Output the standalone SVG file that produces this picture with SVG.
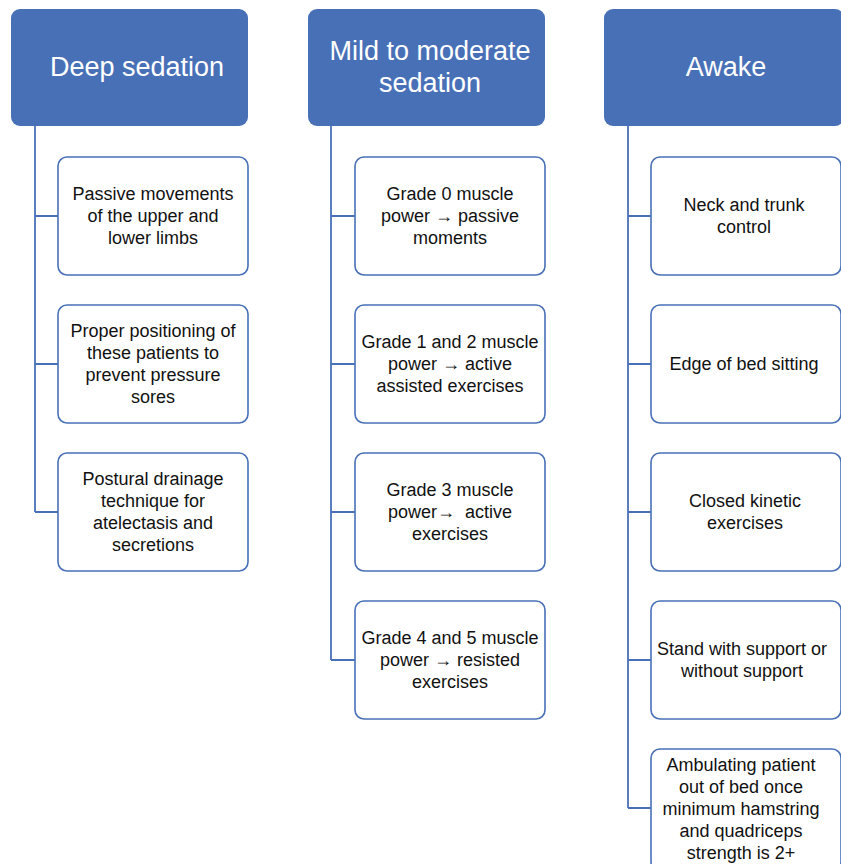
<svg xmlns="http://www.w3.org/2000/svg" width="841" height="864" viewBox="0 0 841 864">
<style>
.hdr{fill:#4870b7;}
.box{fill:#ffffff;stroke:#4870b7;stroke-width:1.6;}
.ht{font-family:"Liberation Sans",Arial,sans-serif;font-size:27px;fill:#ffffff;text-anchor:middle;}
.bt{font-family:"Liberation Sans",Arial,sans-serif;font-size:18px;fill:#111111;text-anchor:middle;}
.con{fill:none;stroke:#4870b7;stroke-width:1.8;}
</style>
<rect width="841" height="864" fill="#ffffff"/>
<g id="connectors">
<path class="con" d="M35,126 V512 M35,216 H58 M35,364 H58 M35,512 H58"/>
<path class="con" d="M331,126 V660 M331,216 H355 M331,364 H355 M331,512 H355 M331,660 H355"/>
<path class="con" d="M628,126 V808 M628,216 H651 M628,364 H651 M628,512 H651 M628,660 H651 M628,808 H651"/>
</g>
<g id="h1"><rect class="hdr" x="11" y="9" width="237" height="117" rx="9"/><text class="ht" x="137" y="76">Deep sedation</text></g>
<g id="h2"><rect class="hdr" x="308" y="9" width="237" height="117" rx="9"/><text class="ht" x="430" y="60">Mild to moderate</text><text class="ht" x="430" y="92">sedation</text></g>
<g id="h3"><rect class="hdr" x="604" y="9" width="240" height="117" rx="9"/><text class="ht" x="726" y="76">Awake</text></g>

<g id="d1"><rect class="box" x="58" y="157" width="190" height="118" rx="9"/><text class="bt" x="153"><tspan x="153" y="200">Passive movements</tspan><tspan x="153" y="222">of the upper and</tspan><tspan x="153" y="244">lower limbs</tspan></text></g>
<g id="d2"><rect class="box" x="58" y="305" width="190" height="118" rx="9"/><text class="bt"><tspan x="153" y="337">Proper positioning of</tspan><tspan x="153" y="359">these patients to</tspan><tspan x="153" y="381">prevent pressure</tspan><tspan x="153" y="403">sores</tspan></text></g>
<g id="d3"><rect class="box" x="58" y="453" width="190" height="118" rx="9"/><text class="bt"><tspan x="153" y="485">Postural drainage</tspan><tspan x="153" y="507">technique for</tspan><tspan x="153" y="529">atelectasis and</tspan><tspan x="153" y="551">secretions</tspan></text></g>

<g id="m1"><rect class="box" x="355" y="157" width="190" height="118" rx="9"/><text class="bt"><tspan x="450" y="200">Grade 0 muscle</tspan><tspan x="450" y="222">power → passive</tspan><tspan x="450" y="244">moments</tspan></text></g>
<g id="m2"><rect class="box" x="355" y="305" width="190" height="118" rx="9"/><text class="bt"><tspan x="450" y="348">Grade 1 and 2 muscle</tspan><tspan x="450" y="370">power → active</tspan><tspan x="450" y="392">assisted exercises</tspan></text></g>
<g id="m3"><rect class="box" x="355" y="453" width="190" height="118" rx="9"/><text class="bt" xml:space="preserve"><tspan x="450" y="496">Grade 3 muscle</tspan><tspan x="450" y="518">power→  active</tspan><tspan x="450" y="540">exercises</tspan></text></g>
<g id="m4"><rect class="box" x="355" y="601" width="190" height="118" rx="9"/><text class="bt"><tspan x="450" y="644">Grade 4 and 5 muscle</tspan><tspan x="450" y="666">power → resisted</tspan><tspan x="450" y="688">exercises</tspan></text></g>

<g id="a1"><rect class="box" x="651" y="157" width="190" height="118" rx="9"/><text class="bt"><tspan x="744" y="211">Neck and trunk</tspan><tspan x="744" y="233">control</tspan></text></g>
<g id="a2"><rect class="box" x="651" y="305" width="190" height="118" rx="9"/><text class="bt"><tspan x="744" y="370">Edge of bed sitting</tspan></text></g>
<g id="a3"><rect class="box" x="651" y="453" width="190" height="118" rx="9"/><text class="bt"><tspan x="745" y="507">Closed kinetic</tspan><tspan x="745" y="529">exercises</tspan></text></g>
<g id="a4"><rect class="box" x="651" y="601" width="190" height="118" rx="9"/><text class="bt"><tspan x="742" y="655">Stand with support or</tspan><tspan x="742" y="677">without support</tspan></text></g>
<g id="a5"><rect class="box" x="651" y="749" width="190" height="122" rx="9"/><text class="bt"><tspan x="741" y="771">Ambulating patient</tspan><tspan x="741" y="793">out of bed once</tspan><tspan x="741" y="815">minimum hamstring</tspan><tspan x="741" y="837">and quadriceps</tspan><tspan x="741" y="859">strength is 2+</tspan></text></g>
</svg>
